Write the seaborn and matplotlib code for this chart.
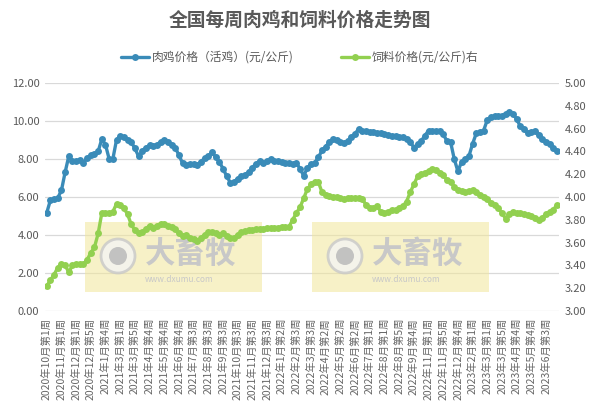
import numpy as np
import pandas as pd
import matplotlib
matplotlib.use('Agg')
import matplotlib.pyplot as plt
import matplotlib.patches as mpatches
import seaborn as sns

# weekly prices
chicken = [5.17, 5.84, 5.88, 5.95, 6.35, 7.30, 8.15, 7.90, 7.90, 7.95,
           7.80, 8.05, 8.20, 8.25, 8.40, 9.05, 8.75, 8.00, 8.00, 9.00,
           9.20, 9.15, 9.00, 8.90, 8.56, 8.15, 8.40, 8.60, 8.72, 8.70,
           8.75, 8.90, 9.00, 8.90, 8.72, 8.60, 8.20, 7.78, 7.70, 7.75,
           7.73, 7.70, 7.85, 8.05, 8.15, 8.35, 8.10, 7.85, 7.50, 7.10,
           6.76, 6.78, 6.97, 7.08, 7.18, 7.30, 7.55, 7.75, 7.90, 7.80,
           7.88, 7.98, 7.92, 7.88, 7.85, 7.80, 7.77, 7.75, 7.77, 7.50,
           7.10, 7.55, 7.72, 7.80, 8.10, 8.45, 8.65, 8.90, 9.03, 9.00,
           8.92, 8.83, 8.95, 9.15, 9.33, 9.60, 9.50, 9.45, 9.44, 9.42,
           9.39, 9.35, 9.33, 9.28, 9.21, 9.20, 9.15, 9.18, 9.03, 8.91,
           8.60, 8.78, 8.95, 9.22, 9.50, 9.45, 9.47, 9.50, 9.30, 8.95,
           8.90, 8.00, 7.35, 7.85, 7.98, 8.15, 8.80, 9.35, 9.42, 9.50,
           10.05, 10.20, 10.25, 10.25, 10.28, 10.38, 10.48, 10.38, 10.10, 9.72,
           9.56, 9.38, 9.44, 9.48, 9.28, 9.05, 8.90, 8.78, 8.60, 8.42]

feed = [3.22, 3.27, 3.32, 3.38, 3.41, 3.40, 3.34, 3.40, 3.41, 3.41,
        3.41, 3.45, 3.51, 3.56, 3.68, 3.86, 3.86, 3.86, 3.87, 3.94,
        3.93, 3.90, 3.85, 3.76, 3.71, 3.68, 3.69, 3.72, 3.75, 3.73,
        3.75, 3.76, 3.76, 3.75, 3.74, 3.72, 3.68, 3.66, 3.67, 3.64,
        3.63, 3.61, 3.64, 3.67, 3.69, 3.69, 3.68, 3.67, 3.68, 3.66,
        3.64, 3.64, 3.67, 3.69, 3.70, 3.71, 3.71, 3.72, 3.72, 3.72,
        3.73, 3.73, 3.73, 3.73, 3.74, 3.74, 3.74, 3.80, 3.86, 3.91,
        3.99, 4.07, 4.11, 4.13, 4.13, 4.04, 4.02, 4.01, 4.00, 4.00,
        3.99, 3.98, 3.99, 3.99, 3.99, 3.99, 3.98, 3.93, 3.90, 3.90,
        3.92, 3.87, 3.86, 3.87, 3.89, 3.89, 3.90, 3.92, 3.96, 4.04,
        4.11, 4.18, 4.20, 4.21, 4.23, 4.25, 4.24, 4.21, 4.19, 4.15,
        4.13, 4.09, 4.06, 4.05, 4.04, 4.05, 4.06, 4.04, 4.02, 4.00,
        3.98, 3.95, 3.93, 3.90, 3.86, 3.81, 3.85, 3.87, 3.86, 3.86,
        3.85, 3.84, 3.83, 3.82, 3.80, 3.82, 3.85, 3.87, 3.89, 3.93]

# every 4th week is labelled
week_labels = ['2020年10月第1周', '2020年11月第1周', '2020年12月第1周', '2020年12月第5周',
               '2021年1月第4周', '2021年3月第1周', '2021年3月第5周', '2021年4月第4周',
               '2021年5月第4周', '2021年6月第4周', '2021年7月第3周', '2021年8月第3周',
               '2021年9月第3周', '2021年10月第3周', '2021年11月第3周', '2021年12月第3周',
               '2022年1月第2周', '2022年2月第3周', '2022年3月第3周', '2022年4月第2周',
               '2022年5月第2周', '2022年6月第2周', '2022年7月第1周', '2022年8月第1周',
               '2022年8月第5周', '2022年9月第4周', '2022年11月第1周', '2022年11月第5周',
               '2022年12月第4周', '2023年2月第1周', '2023年3月第1周', '2023年3月第5周',
               '2023年4月第4周', '2023年5月第4周', '2023年6月第3周']

df = pd.DataFrame({'week': np.arange(len(chicken)), 'chicken': chicken, 'feed': feed})

sns.set_theme(style='white')
plt.rcParams['font.family'] = ['Noto Sans CJK SC', 'DejaVu Sans']
plt.rcParams['axes.unicode_minus'] = False

blue = '#3a8bb8'
green = '#92d050'
grey = '#595959'

fig = plt.figure(figsize=(5.99, 4.15), dpi=100)
ax = fig.add_axes([0.075, 0.2506, 0.858, 0.5494])
ax.set_facecolor('none')
ax2 = ax.twinx()

sns.lineplot(data=df, x='week', y='chicken', ax=ax, color=blue, linewidth=2.4,
             marker='o', markersize=5, markeredgewidth=0, label='肉鸡价格（活鸡）(元/公斤)',
             legend=False)
sns.lineplot(data=df, x='week', y='feed', ax=ax2, color=green, linewidth=2.4,
             marker='o', markersize=5, markeredgewidth=0, label='饲料价格(元/公斤)右',
             legend=False)

ax.set_xlim(-0.5, len(chicken) - 0.5)
ax.set_ylim(0, 12)
ax2.set_ylim(3, 5)
ax.set_yticks(np.arange(0, 12.01, 2))
ax.set_yticklabels([f'{v:.2f}' for v in np.arange(0, 12.01, 2)])
ax2.set_yticks(np.arange(3, 5.001, 0.2))
ax2.set_yticklabels([f'{v:.2f}' for v in np.arange(3, 5.001, 0.2)])
ax.set_xticks(np.arange(0, len(chicken), 4))
ax.set_xticklabels(week_labels, rotation=90, fontsize=7.5, color=grey)

ax.grid(axis='y', color='#d9d9d9', linewidth=0.9)
ax.set_axisbelow(True)
for a in (ax, ax2):
    for s in a.spines.values():
        s.set_visible(False)
    a.tick_params(length=0, labelsize=8, labelcolor=grey, pad=4)
    a.set_xlabel('')
    a.set_ylabel('')
ax.tick_params(axis='x', labelsize=7.5, pad=5, labelcolor='#666666')

fig.suptitle('全国每周肉鸡和饲料价格走势图', x=0.5, y=0.975, fontsize=13.5,
             fontweight='bold', color=grey)

h1, l1 = ax.get_legend_handles_labels()
h2, l2 = ax2.get_legend_handles_labels()
fig.legend(h1 + h2, l1 + l2, loc='center', bbox_to_anchor=(0.5, 0.862), ncol=2,
           frameon=False, fontsize=8.5, handlelength=2.4, columnspacing=4,
           labelcolor=grey, handletextpad=0.2)

# dxumu watermarks
for x0 in (85, 312):
    ax.add_patch(mpatches.Rectangle((x0 / 599, 1 - 292 / 415), 177 / 599, 70 / 415,
                                    transform=fig.transFigure, facecolor='#f2e79a',
                                    alpha=0.55, edgecolor='none', zorder=1, clip_on=False))
    cx, cy = (x0 + 33) / 599, 1 - 256 / 415
    ax.add_patch(mpatches.Ellipse((cx, cy), 34 / 599, 34 / 415, transform=fig.transFigure,
                                  facecolor='#f4f4f4', edgecolor='#c8c8c8', linewidth=2,
                                  alpha=0.8, zorder=1.1, clip_on=False))
    ax.add_patch(mpatches.Ellipse((cx, cy), 18 / 599, 18 / 415, transform=fig.transFigure,
                                  facecolor='#bdbdbd', edgecolor='none',
                                  alpha=0.9, zorder=1.2, clip_on=False))
    ax.text((x0 + 60) / 599, 1 - 254 / 415, '大畜牧', transform=fig.transFigure,
            fontsize=22, fontweight='bold', color='#c8c8c8', va='center', ha='left',
            zorder=1.2, clip_on=False)
    ax.text((x0 + 60) / 599, 1 - 280 / 415, 'www.dxumu.com', transform=fig.transFigure,
            fontsize=6, color='#c8c8c8', va='center', ha='left', zorder=1.2, clip_on=False)

fig.savefig('out.png', dpi=100)
